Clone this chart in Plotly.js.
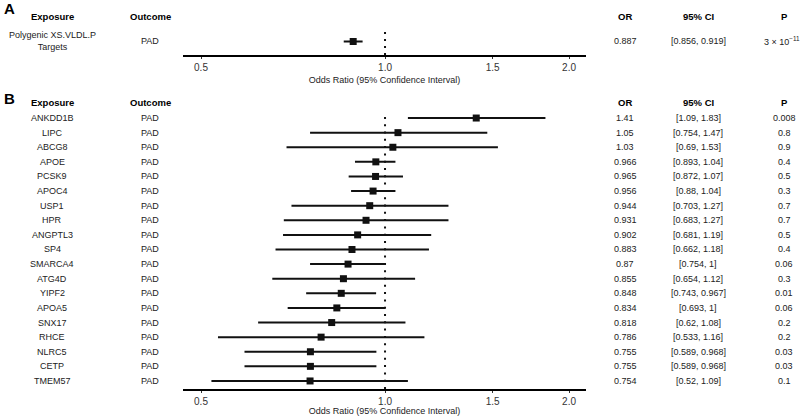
<!DOCTYPE html>
<html>
<head>
<meta charset="utf-8">
<script src="https://cdn.plot.ly/plotly-3.0.1.min.js"></script>
<style>html,body{margin:0;padding:0;background:#fff;}#chart{width:800px;height:416px;}</style>
</head>
<body>
<div id="chart"></div>
<script>
// Panel A data
const aExposure = ["Polygenic XS.VLDL.P<br>Targets"];
const aOutcome = ["PAD"];
const aOR = [0.887];
const aLo = [0.856];
const aHi = [0.919];
const aP = ["3 × 10<sup>−11</sup>"];

// Panel B data
const bExposure = ["ANKDD1B","LIPC","ABCG8","APOE","PCSK9","APOC4","USP1","HPR","ANGPTL3","SP4","SMARCA4","ATG4D","YIPF2","APOA5","SNX17","RHCE","NLRC5","CETP","TMEM57"];
const bOutcome = bExposure.map(() => "PAD");
const bOR = [1.41,1.05,1.03,0.966,0.965,0.956,0.944,0.931,0.902,0.883,0.87,0.855,0.848,0.834,0.818,0.786,0.755,0.755,0.754];
const bLo = [1.09,0.754,0.69,0.893,0.872,0.88,0.703,0.683,0.681,0.662,0.754,0.654,0.743,0.693,0.62,0.533,0.589,0.589,0.52];
const bHi = [1.83,1.47,1.53,1.04,1.07,1.04,1.27,1.27,1.19,1.18,1,1.12,0.967,1,1.08,1.16,0.968,0.968,1.09];
const bP = ["0.008","0.8","0.9","0.4","0.5","0.3","0.7","0.7","0.5","0.4","0.06","0.3","0.01","0.06","0.2","0.2","0.03","0.03","0.1"];

const tickVals = [0.5, 1.0, 1.5, 2.0];
const tickText = ["0.5", "1.0", "1.5", "2.0"];
const headers = ["Exposure", "Outcome", "OR", "95% CI", "P"];

const FONT = "Liberation Sans, Arial, Helvetica, sans-serif";
const W = 800, H = 416;
const colX = [52/W, 150/W, 625/W, 698/W, 784/W];

const aY = aOR.map((_, i) => i);
const bY = bOR.map((_, i) => i);

const traces = [
  {x: [1, 1], y: [-1, 0.85], xaxis: 'x', yaxis: 'y', mode: 'lines', line: {color: '#111', width: 2, dash: '2px,5px'}, hoverinfo: 'skip', showlegend: false},
  {x: [1, 1], y: [18.55, -0.2], xaxis: 'x2', yaxis: 'y2', mode: 'lines', line: {color: '#111', width: 2, dash: '2px,5.3px'}, hoverinfo: 'skip', showlegend: false},
  {x: aOR, y: aY, xaxis: 'x', yaxis: 'y', mode: 'markers', type: 'scatter',
   marker: {symbol: 'square', size: 7, color: '#111'},
   error_x: {type: 'data', symmetric: false, array: aOR.map((v, i) => aHi[i] - v), arrayminus: aOR.map((v, i) => v - aLo[i]), thickness: 2, width: 0, color: '#111'},
   showlegend: false},
  {x: bOR, y: bY, xaxis: 'x2', yaxis: 'y2', mode: 'markers', type: 'scatter',
   marker: {symbol: 'square', size: 7, color: '#111'},
   error_x: {type: 'data', symmetric: false, array: bOR.map((v, i) => bHi[i] - v), arrayminus: bOR.map((v, i) => v - bLo[i]), thickness: 2, width: 0, color: '#111'},
   showlegend: false}
];

const xRange = [-0.3305, 0.3288];
function xAxis(anchor) {
  return {
    domain: [183/W, 586/W], type: 'log', range: xRange, anchor: anchor,
    showline: true, linewidth: 2, linecolor: '#000', mirror: false,
    ticks: 'outside', ticklen: 2, tickwidth: 1, tickcolor: '#333',
    tickvals: tickVals, ticktext: tickText,
    tickfont: {family: FONT, size: 10, color: '#333'},
    showgrid: false, zeroline: false, fixedrange: true,
    title: {text: 'Odds Ratio (95% Confidence Interval)', font: {family: FONT, size: 9, color: '#222'}, standoff: 5}
  };
}

const annotations = [];
function txt(x, y, yref, text, opts) {
  annotations.push(Object.assign({x: x, y: y, xref: 'paper', yref: yref, text: text, showarrow: false,
    xanchor: 'center', yanchor: 'middle', font: {family: FONT, size: 9, color: '#222'}}, opts || {}));
}
// Panel labels
txt(2/W, 1 - 8/H, 'paper', '<b>A</b>', {xanchor: 'left', font: {family: FONT, size: 15, color: '#000'}});
txt(2/W, 1 - 99/H, 'paper', '<b>B</b>', {xanchor: 'left', font: {family: FONT, size: 15, color: '#000'}});
// Headers
headers.forEach((h, k) => {
  txt(colX[k], 1 - 17/H, 'paper', '<b>' + h + '</b>', {font: {family: FONT, size: 9.5, color: '#000'}});
  txt(colX[k], 1 - 102/H, 'paper', '<b>' + h + '</b>', {font: {family: FONT, size: 9.5, color: '#000'}});
});
// Panel A rows
aOR.forEach((v, i) => {
  txt(colX[0], aY[i], 'y', aExposure[i]);
  txt(colX[1], aY[i], 'y', aOutcome[i]);
  txt(colX[2], aY[i], 'y', String(v));
  txt(colX[3], aY[i], 'y', '[' + aLo[i] + ', ' + aHi[i] + ']');
  txt(782/W, aY[i], 'y', aP[i]);
});
// Panel B rows
bOR.forEach((v, i) => {
  txt(colX[0], bY[i], 'y2', bExposure[i]);
  txt(colX[1], bY[i], 'y2', bOutcome[i]);
  txt(colX[2], bY[i], 'y2', String(v));
  txt(colX[3], bY[i], 'y2', '[' + bLo[i] + ', ' + bHi[i] + ']');
  txt(colX[4], bY[i], 'y2', bP[i]);
});

const layout = {
  width: W, height: H,
  margin: {l: 0, r: 0, t: 0, b: 0},
  paper_bgcolor: '#fff', plot_bgcolor: '#fff',
  font: {family: FONT, size: 9, color: '#222'},
  showlegend: false,
  xaxis: xAxis('y'),
  yaxis: {domain: [1 - 55/H, 1 - 28/H], range: [-1, 1], visible: false, fixedrange: true},
  xaxis2: xAxis('y2'),
  yaxis2: {domain: [1 - 389/H, 1 - 110/H], range: [18.55, -0.55], visible: false, fixedrange: true},
  annotations: annotations
};

Plotly.newPlot('chart', traces, layout, {displayModeBar: false, staticPlot: true});
</script>
</body>
</html>
